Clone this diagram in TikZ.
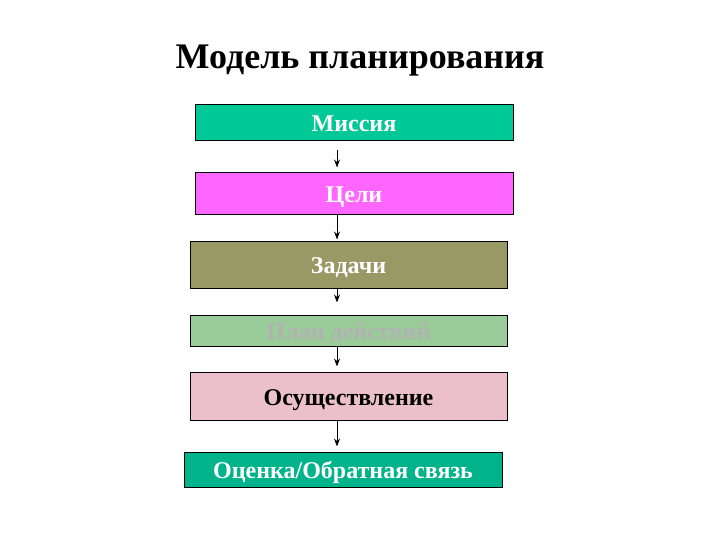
\documentclass[tikz,border=0pt]{standalone}
\usepackage{fontspec}
\setmainfont{Liberation Serif}
\usetikzlibrary{arrows.meta}
\definecolor{missia}{RGB}{0,200,150}
\definecolor{celi}{RGB}{255,102,255}
\definecolor{zadachi}{RGB}{153,153,102}
\definecolor{plan}{RGB}{153,204,153}
\definecolor{osush}{RGB}{235,192,204}
\definecolor{ocenka}{RGB}{0,179,138}
\tikzset{
  stage/.style={draw=black,line width=1pt,minimum width=318pt,inner sep=0pt,
    text height=18pt,text depth=0pt,
    font=\fontsize{24}{24}\selectfont\bfseries},
  arr/.style={line width=1pt,-{Stealth[length=8pt,width=6pt]}}
}
\begin{document}
\begin{tikzpicture}[x=1pt,y=-1pt]
   \useasboundingbox[fill=white] (0,0) rectangle (720,540);

   \node(title) at (360,61) {\fontsize{36}{36}\selectfont\bfseries Модель планирования};

   \node[stage,fill=missia,text=white,minimum height=36pt](missia) at (354,123) {Миссия};
   \node[stage,fill=celi,text=white,minimum height=42pt](celi) at (354,194) {Цели};
   \node[stage,fill=zadachi,text=white,minimum width=317pt,minimum height=47pt](zadachi) at (348.5,264.5) {Задачи};
   \node[stage,fill=plan,text=black!30,minimum width=317pt,minimum height=31pt](plan) at (348.5,330.5) {План действий};
   \node[stage,fill=osush,text=black,minimum width=317pt,minimum height=48pt](osush) at (348.5,396) {Осуществление};
   \node[stage,fill=ocenka,text=white,minimum height=35pt](ocenka) at (343,469.5) {Оценка/Обратная связь};

   \coordinate(ax) at (337,0);
   \draw[arr,shorten <=9pt,shorten >=5pt] (missia.south -| ax) -- (celi.north -| ax);
   \draw[arr,shorten >=1pt] (celi.south -| ax) -- (zadachi.north -| ax);
   \draw[arr,shorten >=12pt] (zadachi.south -| ax) -- (plan.north -| ax);
   \draw[arr,shorten >=5pt] (plan.south -| ax) -- (osush.north -| ax);
   \draw[arr,shorten >=5pt] (osush.south -| ax) -- (ocenka.north -| ax);

 \end{tikzpicture}
\end{document}
